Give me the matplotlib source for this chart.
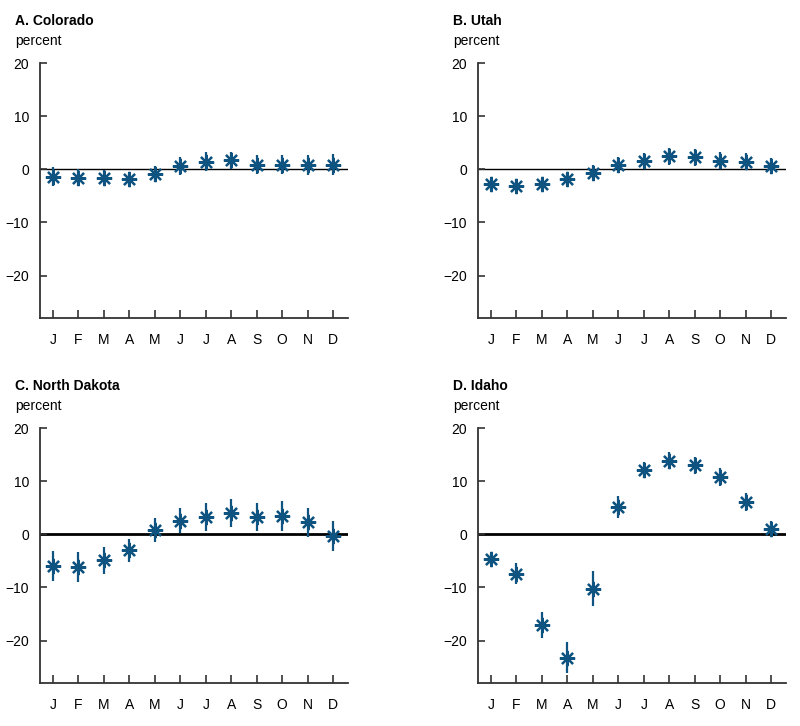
import numpy as np
import matplotlib
matplotlib.use("Agg")
import matplotlib.pyplot as plt

plt.rcParams['font.family'] = ['Liberation Sans', 'DejaVu Sans']

months = ["J", "F", "M", "A", "M", "J", "J", "A", "S", "O", "N", "D"]

colorado = [-1.4, -1.6, -1.6, -1.9, -0.9, 0.6, 1.4, 1.7, 0.9, 0.9, 0.8, 0.9]
colorado_err = [1.8, 1.6, 1.4, 1.2, 1.45, 1.75, 1.8, 1.6, 1.8, 1.75, 1.9, 2.0]

utah = [-2.8, -3.1, -2.8, -1.9, -0.6, 0.8, 1.65, 2.5, 2.3, 1.65, 1.45, 0.6]
utah_err = [1.2, 1.25, 1.2, 1.3, 1.35, 1.45, 1.35, 1.6, 1.6, 1.6, 1.65, 1.5]

north_dakota = [-5.95, -6.1, -4.9, -3.0, 0.8, 2.6, 3.35, 4.0, 3.3, 3.4, 2.3, -0.3]
north_dakota_err = [2.9, 2.85, 2.6, 2.2, 2.3, 2.4, 2.65, 2.65, 2.65, 2.8, 2.75, 2.8]

idaho = [-4.7, -7.4, -17.1, -23.2, -10.2, 5.1, 12.1, 13.9, 13.0, 10.75, 6.1, 1.1]
idaho_err = [1.1, 2.0, 2.4, 3.0, 3.35, 2.05, 1.5, 1.65, 1.6, 1.7, 1.75, 1.5]

titles = ["A. Colorado", "B. Utah", "C. North Dakota", "D. Idaho"]
series = [colorado, utah, north_dakota, idaho]
errors = [colorado_err, utah_err, north_dakota_err, idaho_err]
zero_widths = [1.0, 1.0, 2.0, 2.0]

blue = "#0f5480"
axis_col = "#333333"

fig = plt.figure(figsize=(8, 7.26), dpi=100)

# panel boxes in figure fractions: left, bottom
positions = [(0.05, 0.562), (0.5975, 0.562), (0.05, 0.0592), (0.5975, 0.0592)]
w, h = 0.385, 0.351

x = np.arange(1, 13)
for i in range(4):
    left, bottom = positions[i]
    ax = fig.add_axes([left, bottom, w, h])
    ax.axhline(0, color="black", lw=zero_widths[i], zorder=1)
    ax.errorbar(x, series[i], yerr=errors[i], fmt="none", ecolor=blue,
                elinewidth=1.6, capsize=0, zorder=2)
    ax.plot(x, series[i], ls="none", marker=(8, 2, 0), ms=11, mew=1.6,
            color=blue, zorder=3)

    ax.set_xlim(0.5, 12.58)
    ax.set_ylim(-28, 20)
    ax.set_yticks([20, 10, 0, -10, -20])
    ax.set_yticklabels(["20", "10", "0", "\u221210", "\u221220"])
    ax.set_xticks(x)
    ax.set_xticklabels(months)
    ax.tick_params(axis="y", direction="in", length=5, width=1.2,
                   color=axis_col, labelsize=10, pad=8)
    ax.tick_params(axis="x", direction="in", length=6, width=1.2,
                   color=axis_col, labelsize=10, pad=11)
    for s in ["top", "right"]:
        ax.spines[s].set_visible(False)
    for s in ["left", "bottom"]:
        ax.spines[s].set_color(axis_col)
        ax.spines[s].set_linewidth(1.3)

    tx = left - 25 / 800
    ty = bottom + h + 42 / 726
    fig.text(tx, ty, titles[i], fontsize=10, fontweight="bold", va="center")
    fig.text(tx, ty - 20 / 726, "percent", fontsize=10, va="center")

fig.savefig("out.png", dpi=100)
